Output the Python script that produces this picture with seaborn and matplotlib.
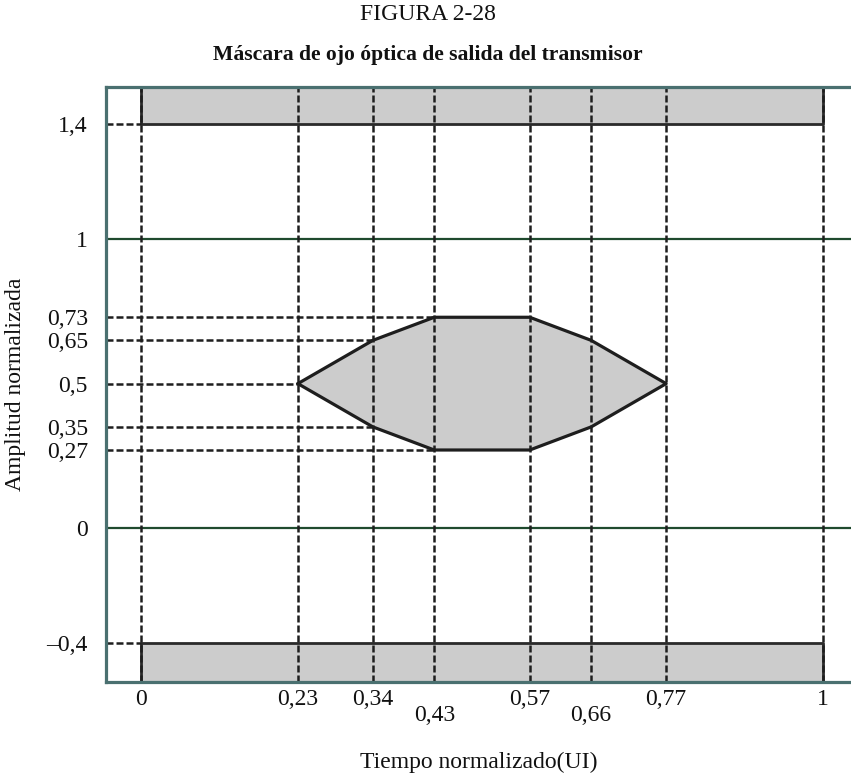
import numpy as np
import pandas as pd
import matplotlib
matplotlib.use("Agg")
import matplotlib.pyplot as plt
import seaborn as sns

# ---- data ----
x_ticks = [0, 0.23, 0.34, 0.43, 0.57, 0.66, 0.77, 1]
x_labels = ["0", "0,23", "0,34", "\n0,43", "0,57", "\n0,66", "0,77", "1"]
y_ticks = [-0.4, 0, 0.27, 0.35, 0.5, 0.65, 0.73, 1, 1.4]
y_labels = ["\u20130,4", "0", "0,27", "0,35", "0,5", "0,65", "0,73", "1", "1,4"]

eye_x = [0.23, 0.34, 0.43, 0.57, 0.66, 0.77, 0.66, 0.57, 0.43, 0.34, 0.23]
eye_y = [0.5, 0.65, 0.73, 0.73, 0.65, 0.5, 0.35, 0.27, 0.27, 0.35, 0.5]

upper_limit = 1.4
lower_limit = -0.4
green_levels = [0, 1]

# horizontal guide lines: level and the x where they stop
guide_y = [1.4, 0.73, 0.65, 0.5, 0.35, 0.27, -0.4]
guide_x_end = [0, 0.43, 0.34, 0.23, 0.34, 0.43, 0]

sns.set_theme(style="white")
plt.rcParams["font.family"] = ["Liberation Serif", "DejaVu Serif"]

fig = plt.figure(figsize=(8.51, 7.75), dpi=100)
ax = fig.add_axes([106 / 851, 1 - 682 / 775, 745 / 851, 595 / 775])

XMIN, XMAX = -0.0513, 1.041
YMIN, YMAX = -0.534, 1.528
ax.set_xlim(XMIN, XMAX)
ax.set_ylim(YMIN, YMAX)

dash = (0, (2.8, 1.2))
dark = "#1e1e1e"

# mask rectangles
ax.fill_between([0, 1], upper_limit, YMAX, color="#cccccc", zorder=1)
ax.plot([0, 0, 1, 1], [YMAX, upper_limit, upper_limit, YMAX], color="#2a2a2a", lw=2.0, zorder=2)
ax.fill_between([0, 1], YMIN, lower_limit, color="#cccccc", zorder=1)
ax.plot([0, 0, 1, 1], [YMIN, lower_limit, lower_limit, YMIN], color="#2a2a2a", lw=2.0, zorder=2)

# eye polygon
df = pd.DataFrame({"x": eye_x, "y": eye_y})
ax.fill(df["x"], df["y"], color="#cccccc", zorder=1)
sns.lineplot(data=df, x="x", y="y", sort=False, estimator=None, color=dark, lw=2.3, ax=ax, zorder=4)

# green reference levels
for g in green_levels:
    ax.axhline(g, color="#1f4a2e", lw=1.6, zorder=2)

# vertical dashed guides
for xv in x_ticks:
    ax.axvline(xv, color=dark, lw=1.8, ls=dash, zorder=3)

# horizontal dashed guides
for yv, xe in zip(guide_y, guide_x_end):
    ax.hlines(yv, XMIN, xe, color=dark, lw=1.8, ls=dash, zorder=3)

FS = 17
ax.set_xticks(x_ticks)
ax.set_xticklabels(x_labels)
ax.set_yticks(y_ticks)
ax.set_yticklabels(y_labels)
ax.tick_params(axis="both", length=0, labelsize=FS, colors="#111111")
ax.tick_params(axis="x", pad=5)
ax.tick_params(axis="y", pad=13)
for lab in ax.get_xticklabels():
    lab.set_linespacing(0.72)

ax.set_xlabel("Tiempo normalizado(UI)", fontsize=FS, color="#111111")
ax.set_ylabel("Amplitud normalizada", fontsize=FS, color="#111111")
ax.xaxis.set_label_coords(0.5, -0.118)
ax.yaxis.set_label_coords(-0.107, 0.5)

spine_c = "#4a7070"
for s in ["left", "top", "bottom"]:
    ax.spines[s].set_color(spine_c)
    ax.spines[s].set_linewidth(2.3)
    ax.spines[s].set_zorder(5)
ax.spines["right"].set_visible(False)
ax.grid(False)

fig.text(0.503, 1 - 14 / 775, "FIGURA 2-28", ha="center", va="center", fontsize=17, color="#111111")
fig.text(0.503, 1 - 55 / 775, "Máscara de ojo óptica de salida del transmisor", ha="center", va="center",
         fontsize=15.6, fontweight="bold", color="#111111")

fig.savefig("out.png", dpi=100)
